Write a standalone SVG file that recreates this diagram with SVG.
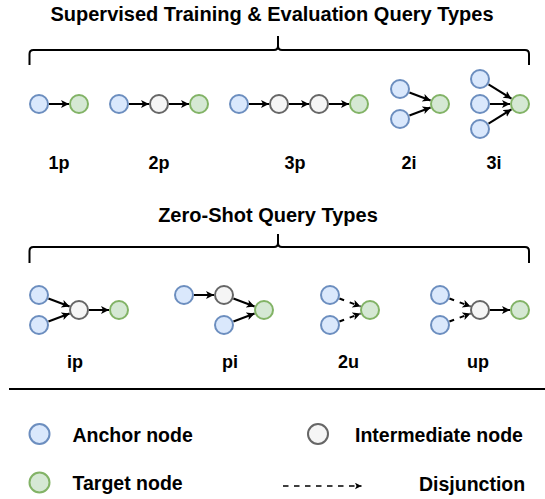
<svg xmlns="http://www.w3.org/2000/svg" width="545" height="499" viewBox="0 0 545 499">
<style>
text{font-family:"Liberation Sans",Arial,sans-serif;font-weight:bold;fill:#000}
.title{font-size:20px;text-anchor:middle}
.lab{font-size:18px;text-anchor:middle}
.leg{font-size:19.5px}
.a{fill:#dae8fc;stroke:#6c8ebf;stroke-width:2}
.t{fill:#d5e8d4;stroke:#82b366;stroke-width:2}
.i{fill:#f5f5f5;stroke:#666666;stroke-width:2}
.e{stroke:#000;stroke-width:2;fill:none;marker-end:url(#arr)}
.d{stroke:#000;stroke-width:2;fill:none;stroke-dasharray:5 6;marker-end:url(#arr)}
.brace{stroke:#000;stroke-width:2;fill:none}
</style>
<defs>
<marker id="arr" markerUnits="userSpaceOnUse" markerWidth="10" markerHeight="10" refX="8" refY="4" orient="auto">
<path d="M0,0 L8,4 L0,8 L2,4 Z" fill="#000"/>
</marker>
<marker id="arrs" markerUnits="userSpaceOnUse" markerWidth="8" markerHeight="8" refX="6.5" refY="3.25" orient="auto">
<path d="M0,0 L6.5,3.25 L0,6.5 L1.5,3.25 Z" fill="#000"/>
</marker>
</defs>

<text class="title" x="272" y="21">Supervised Training &amp; Evaluation Query Types</text>
<path class="brace" d="M29.5 65 V54 Q29.5 50 33.5 50 H274 Q278 50 278 46 V36 M278 46 Q278 50 282 50 H525 Q529 50 529 54 V65"/>

<text class="title" x="268" y="222">Zero-Shot Query Types</text>
<path class="brace" d="M29.5 263 V251 Q29.5 247 33.5 247 H274 Q278 247 278 243 V234 M278 243 Q278 247 282 247 H525 Q529 247 529 251 V263"/>

<g id="connectors">
<!-- 1p -->
<line class="e" x1="49" y1="104" x2="69" y2="104"/>
<!-- 2p -->
<line class="e" x1="129" y1="104" x2="149" y2="104"/>
<line class="e" x1="169" y1="104" x2="189" y2="104"/>
<!-- 3p -->
<line class="e" x1="249" y1="104" x2="269" y2="104"/>
<line class="e" x1="289" y1="104" x2="309" y2="104"/>
<line class="e" x1="329" y1="104" x2="349" y2="104"/>
<!-- 2i -->
<line class="e" x1="409.4" y1="92.5" x2="430.6" y2="100.5"/>
<line class="e" x1="409.4" y1="115.5" x2="430.6" y2="107.5"/>
<!-- 3i -->
<line class="e" x1="488.5" y1="84.3" x2="511.5" y2="98.7"/>
<line class="e" x1="490" y1="104" x2="510" y2="104"/>
<line class="e" x1="488.5" y1="123.7" x2="511.5" y2="109.3"/>
<!-- ip -->
<line class="e" x1="48.4" y1="298.5" x2="69.6" y2="306.5"/>
<line class="e" x1="48.4" y1="321.5" x2="69.6" y2="313.5"/>
<line class="e" x1="89" y1="310" x2="109" y2="310"/>
<!-- pi -->
<line class="e" x1="194" y1="295" x2="214" y2="295"/>
<line class="e" x1="233.4" y1="298.5" x2="254.6" y2="306.5"/>
<line class="e" x1="233.4" y1="321.5" x2="254.6" y2="313.5"/>
<!-- 2u -->
<line class="d" x1="339.4" y1="298.5" x2="360.6" y2="306.5"/>
<line class="d" x1="339.4" y1="321.5" x2="360.6" y2="313.5"/>
<!-- up -->
<line class="d" x1="449.4" y1="298.5" x2="470.6" y2="306.5"/>
<line class="d" x1="449.4" y1="321.5" x2="470.6" y2="313.5"/>
<line class="e" x1="490" y1="310" x2="510" y2="310"/>
</g>

<g id="q1p"><circle class="a" cx="39" cy="104" r="9"/><circle class="t" cx="79" cy="104" r="9"/><text class="lab" x="59" y="169">1p</text></g>
<g id="q2p"><circle class="a" cx="119" cy="104" r="9"/><circle class="i" cx="159" cy="104" r="9"/><circle class="t" cx="199" cy="104" r="9"/><text class="lab" x="159" y="169">2p</text></g>
<g id="q3p"><circle class="a" cx="239" cy="104" r="9"/><circle class="i" cx="279" cy="104" r="9"/><circle class="i" cx="319" cy="104" r="9"/><circle class="t" cx="359" cy="104" r="9"/><text class="lab" x="295" y="169">3p</text></g>
<g id="q2i"><circle class="a" cx="400" cy="89" r="9"/><circle class="a" cx="400" cy="119" r="9"/><circle class="t" cx="440" cy="104" r="9"/><text class="lab" x="409" y="169">2i</text></g>
<g id="q3i"><circle class="a" cx="480" cy="79" r="9"/><circle class="a" cx="480" cy="104" r="9"/><circle class="a" cx="480" cy="129" r="9"/><circle class="t" cx="520" cy="104" r="9"/><text class="lab" x="494" y="169">3i</text></g>

<g id="qip"><circle class="a" cx="39" cy="295" r="9"/><circle class="a" cx="39" cy="325" r="9"/><circle class="i" cx="79" cy="310" r="9"/><circle class="t" cx="119" cy="310" r="9"/><text class="lab" x="75" y="368">ip</text></g>
<g id="qpi"><circle class="a" cx="184" cy="295" r="9"/><circle class="i" cx="224" cy="295" r="9"/><circle class="a" cx="224" cy="325" r="9"/><circle class="t" cx="264" cy="310" r="9"/><text class="lab" x="230" y="368">pi</text></g>
<g id="q2u"><circle class="a" cx="330" cy="295" r="9"/><circle class="a" cx="330" cy="325" r="9"/><circle class="t" cx="370" cy="310" r="9"/><text class="lab" x="348.5" y="368">2u</text></g>
<g id="qup"><circle class="a" cx="440" cy="295" r="9"/><circle class="a" cx="440" cy="325" r="9"/><circle class="i" cx="480" cy="310" r="9"/><circle class="t" cx="520" cy="310" r="9"/><text class="lab" x="478" y="368">up</text></g>

<line x1="9" y1="389" x2="545" y2="389" stroke="#000" stroke-width="2"/>

<g id="legend">
<circle class="a" cx="39.5" cy="434" r="10"/>
<text class="leg" x="72.5" y="442">Anchor node</text>
<circle class="i" cx="318" cy="434" r="10"/>
<text class="leg" x="355" y="442">Intermediate node</text>
<circle class="t" cx="39.5" cy="482.5" r="10"/>
<text class="leg" x="72.5" y="490">Target node</text>
<line x1="283" y1="486" x2="361.5" y2="486" stroke="#000" stroke-width="1.5" stroke-dasharray="5.5 5.5" marker-end="url(#arrs)"/>
<text class="leg" x="419" y="490.5">Disjunction</text>
</g>
</svg>
